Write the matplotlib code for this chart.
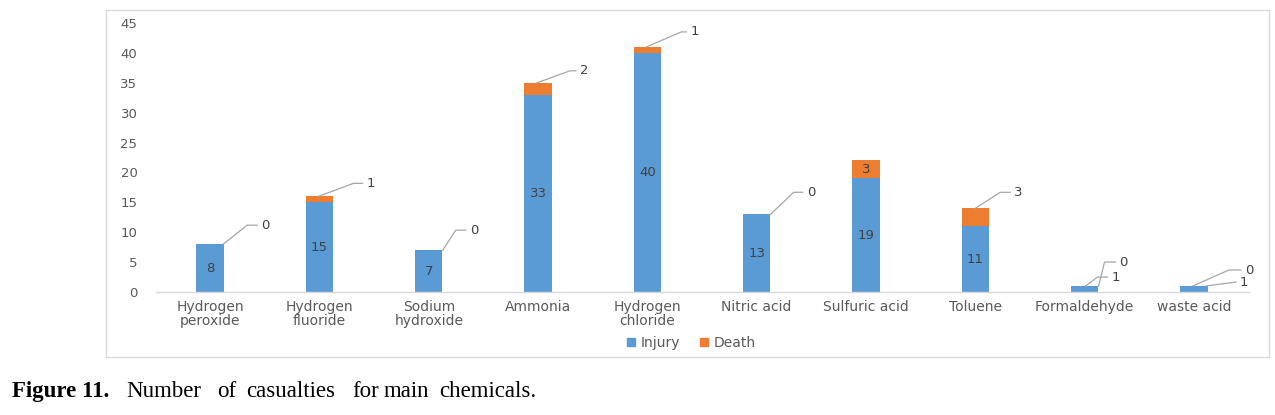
import matplotlib
matplotlib.use("Agg")
import matplotlib.pyplot as plt
from matplotlib.lines import Line2D
from matplotlib.patches import Rectangle
from matplotlib.transforms import IdentityTransform

categories = ["Hydrogen\nperoxide", "Hydrogen\nfluoride", "Sodium\nhydroxide", "Ammonia",
              "Hydrogen\nchloride", "Nitric acid", "Sulfuric acid", "Toluene",
              "Formaldehyde", "waste acid"]
injury = [8, 15, 7, 33, 40, 13, 19, 11, 1, 1]
death = [0, 1, 0, 2, 1, 0, 3, 3, 0, 0]
yticks = [0, 5, 10, 15, 20, 25, 30, 35, 40, 45]
caption_bold = "Figure 11."
caption_words = ["Number", "of", "casualties", "for", "main", "chemicals."]
caption_word_x = [126, 217, 246, 352, 384, 439]  # pixel start of each word

BLUE = "#5B9BD5"
ORANGE = "#ED7D31"
TICK = "#595959"
LABEL = "#404040"
LEAD = "#A6A6A6"
FS = 9.5

plt.rcParams["font.family"] = ["DejaVu Sans"]

W, H = 1275, 415
fig = plt.figure(figsize=(W / 100, H / 100), dpi=100)
fig.patch.set_facecolor("white")

# outer chart border
fig.patches.append(Rectangle((106 / W, 1 - 357 / H), (1269 - 106) / W, (357 - 10) / H,
                             transform=fig.transFigure, fill=False, edgecolor="#D9D9D9", lw=1))

ax = fig.add_axes([155.5 / W, 1 - 292 / H, (1248.5 - 155.5) / W, (292 - 23) / H])
x = list(range(len(categories)))
bw = 0.25
ax.bar(x, injury, width=bw, color=BLUE, label="Injury", zorder=2)
ax.bar(x, death, width=bw, bottom=injury, color=ORANGE, label="Death", zorder=2)

ax.set_xlim(-0.5, len(categories) - 0.5)
ax.set_ylim(0, 45)
ax.set_yticks(yticks)
ax.set_xticks(x)
ax.set_xticklabels(categories, fontsize=10, color=TICK, linespacing=1.0)
ax.tick_params(axis="y", length=0, pad=13, labelsize=FS, labelcolor=TICK)
ax.tick_params(axis="x", length=0, pad=6)
for s in ["top", "right", "left"]:
    ax.spines[s].set_visible(False)
ax.spines["bottom"].set_color("#D9D9D9")
ax.spines["bottom"].set_linewidth(1)

# injury labels inside bars
for i, (inj, d) in enumerate(zip(injury, death)):
    if inj >= 5:
        ax.text(i, inj / 2, str(inj), ha="center", va="center", fontsize=FS, color=LABEL, zorder=3)
    if d >= 3 and inj >= 15:
        ax.text(i, inj + d / 2, str(d), ha="center", va="center", fontsize=FS, color=LABEL, zorder=3)

# leader-line labels: (category index, value text, anchor value, sx, dx, dy, h) in pixels
leaders = [
    (0, death[0], injury[0] + death[0], 13, 24, 19, 10),
    (1, death[1], injury[1] + death[1], -1, 35, 13, 9),
    (2, death[2], injury[2] + death[2], 14, 13, 20, 10),
    (3, death[3], injury[3] + death[3], -1, 33, 12, 6),
    (4, death[4], injury[4] + death[4], -1, 35, 15, 5),
    (5, death[5], injury[5] + death[5], 14, 23, 22, 9),
    (7, death[7], injury[7] + death[7], 0, 25, 16, 10),
    (8, injury[8], injury[8], 1, 12, 9, 10),
    (8, death[8], injury[8] + death[8], 14, 6, 24, 11),
    (9, death[9], injury[9] + death[9], -1, 36, 16, 12),
    (9, injury[9], injury[9], 12, 30, 4, 0),
]
fig.canvas.draw()
for i, val, top, sx, dx, dy, h in leaders:
    px, py = ax.transData.transform((i, top))
    x0, y0 = px + sx, py
    x1, y1 = x0 + dx, y0 + dy
    x2 = x1 + h
    fig.add_artist(Line2D([x0, x1, x2], [y0, y1, y1], transform=IdentityTransform(),
                          color=LEAD, lw=0.9))
    fig.text(x2 + 4, y1, str(val), transform=IdentityTransform(), ha="left", va="center",
             fontsize=FS, color=LABEL)

# legend
handles = [Line2D([], [], marker="s", ls="", markersize=5.5, color=BLUE),
           Line2D([], [], marker="s", ls="", markersize=5.5, color=ORANGE)]
fig.legend(handles, ["Injury", "Death"], loc="center", bbox_to_anchor=(690 / W, 1 - 343 / H),
           ncol=2, frameon=False, fontsize=10, labelcolor=TICK, handletextpad=0.2,
           columnspacing=1.2, handlelength=1.0)

# caption
fig.text(12 / W, 1 - 391 / H, caption_bold, family="Liberation Serif", fontweight="bold",
         fontsize=16.5, ha="left", va="center", color="black")
for word, wx in zip(caption_words, caption_word_x):
    fig.text(wx / W, 1 - 391 / H, word, family="Liberation Serif", fontsize=16.5,
             ha="left", va="center", color="black")

fig.savefig("out.png", dpi=100, facecolor="white")
